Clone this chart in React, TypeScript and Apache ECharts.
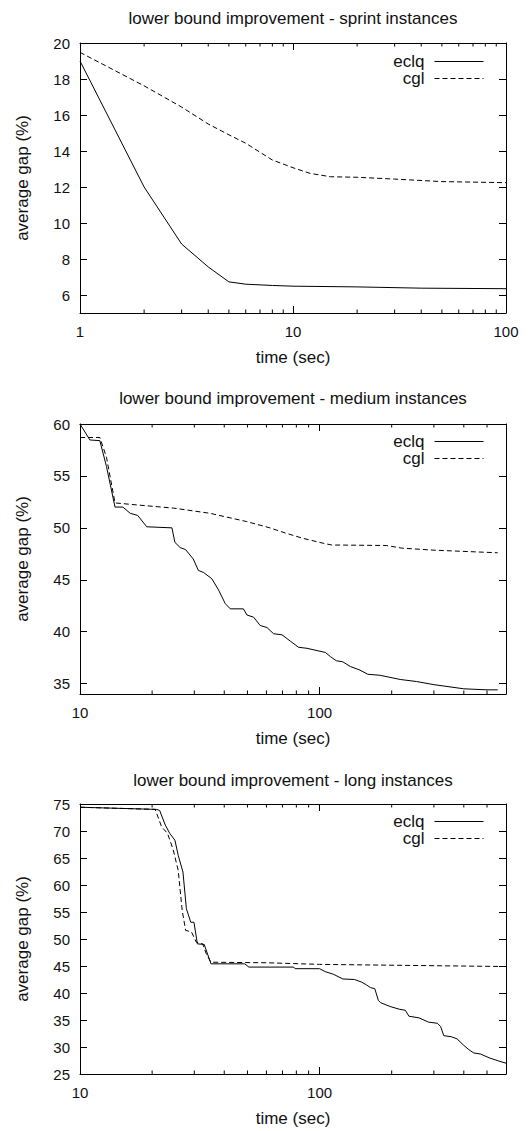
import React, { useEffect, useRef } from 'react';
import * as echarts from 'echarts';

// ---------- data ----------
const sprintEclqTime = [1, 2, 3, 4, 5, 6, 8, 10, 20, 40, 100];
const sprintEclqGap = [19.0, 12.0, 8.83, 7.56, 6.73, 6.6, 6.53, 6.49, 6.45, 6.38, 6.35];
const sprintCglTime = [1, 2, 3, 4, 5, 6, 8, 10, 12, 15, 20, 30, 50, 100];
const sprintCglGap = [19.48, 17.62, 16.44, 15.5, 14.9, 14.43, 13.5, 13.07, 12.76, 12.57, 12.54, 12.44, 12.3, 12.24];

const mediumEclqTime = [10, 11, 12.1, 12.9, 14.0, 15.1, 16.2, 17.4, 19.0, 24.2, 24.9, 26.2, 27.6, 29.7, 31.2, 32.8, 35.5, 37.9, 40.4, 42.4, 48.1, 49.8, 53.0, 56.5, 60.3, 64.3, 69.7, 75.4, 81.7, 88.6, 105.7, 111, 117.5, 125, 134.3, 147.5, 159, 179, 217, 254, 300, 400, 500, 554];
const mediumEclqGap = [60, 58.46, 58.4, 55.9, 52.0, 52.0, 51.4, 51.2, 50.1, 50.0, 48.6, 48.1, 47.9, 47.0, 45.9, 45.7, 45.1, 44.0, 42.7, 42.2, 42.2, 41.6, 41.4, 40.6, 40.4, 39.8, 39.7, 39.1, 38.5, 38.4, 38.0, 37.6, 37.2, 37.1, 36.65, 36.3, 35.9, 35.8, 35.4, 35.2, 34.9, 34.5, 34.4, 34.4];
const mediumCglTime = [10, 12.1, 12.9, 14.0, 17.4, 24.6, 34.9, 49.7, 62, 72, 85, 100, 112, 190, 220, 300, 554];
const mediumCglGap = [58.7, 58.7, 56.8, 52.4, 52.2, 51.9, 51.4, 50.6, 50.0, 49.5, 49.0, 48.6, 48.35, 48.3, 48.05, 47.85, 47.6];

const longEclqTime = [10, 20.9, 21.5, 22.7, 23.7, 24.9, 25.7, 26.9, 27.8, 29.0, 29.9, 30.9, 33.0, 35.2, 48.7, 50.7, 78, 79, 100, 105.7, 114.5, 125, 140, 150, 157, 163, 170, 176, 180, 197, 215, 228, 236, 260, 285, 310, 320, 330, 355, 375, 400, 420, 440, 470, 510, 560, 600];
const longEclqGap = [74.4, 74.0, 73.8, 71.1, 69.55, 68.3, 65.5, 62.4, 55.6, 53.1, 53.1, 49.1, 49.0, 45.4, 45.4, 44.8, 44.8, 44.5, 44.5, 43.95, 43.45, 42.6, 42.5, 42.0, 41.5, 41.0, 40.8, 38.6, 38.2, 37.5, 37.0, 36.8, 35.7, 35.4, 34.6, 34.4, 33.8, 32.1, 31.9, 31.5, 30.3, 29.5, 28.9, 28.7, 28.0, 27.4, 27.0];
const longCglTime = [10, 20.6, 21.9, 23.2, 24.5, 25.7, 26.7, 27.6, 29.2, 30.6, 32.5, 33.7, 35.2, 60, 100, 600];
const longCglGap = [74.4, 74.0, 70.8, 69.55, 66.5, 62.7, 55.3, 51.6, 51.3, 49.4, 49.1, 47.2, 45.7, 45.6, 45.3, 44.9];

const sprintYTicks = [6, 8, 10, 12, 14, 16, 18, 20];
const mediumYTicks = [35, 40, 45, 50, 55, 60];
const longYTicks = [25, 30, 35, 40, 45, 50, 55, 60, 65, 70, 75];
const sprintMinorX = [2, 3, 4, 5, 6, 7, 8, 9, 20, 30, 40, 50, 60, 70, 80, 90];
const longMinorX = [20, 30, 40, 50, 60, 70, 80, 90, 200, 300, 400, 500];

const titles = [
  'lower bound improvement - sprint instances',
  'lower bound improvement - medium instances',
  'lower bound improvement - long instances',
];
const seriesNames = ['eclq', 'cgl'];
const xName = 'time (sec)';
const yName = 'average gap (%)';

const zip = (xs: number[], ys: number[]) => xs.map((x, i) => [x, ys[i]]);

const FONT = '"Liberation Sans", Arial, Helvetica, sans-serif';
const TXT = '#111';

const panels = [
  { title: titles[0], top: 43, titleY: 18, legendTop: 53, xMin: 1, xMax: 100, yMin: 5, yMax: 20, yTicks: sprintYTicks, minor: sprintMinorX, eclq: zip(sprintEclqTime, sprintEclqGap), cgl: zip(sprintCglTime, sprintCglGap) },
  { title: titles[1], top: 424, titleY: 398, legendTop: 433, xMin: 10, xMax: 600, yMin: 34, yMax: 60, yTicks: mediumYTicks, minor: longMinorX, eclq: zip(mediumEclqTime, mediumEclqGap), cgl: zip(mediumCglTime, mediumCglGap) },
  { title: titles[2], top: 804, titleY: 780, legendTop: 813, xMin: 10, xMax: 600, yMin: 25, yMax: 75, yTicks: longYTicks, minor: longMinorX, eclq: zip(longEclqTime, longEclqGap), cgl: zip(longCglTime, longCglGap) },
];

const powFormatter = (v: number) => {
  const l = Math.log10(v);
  return Math.abs(l - Math.round(l)) < 1e-6 ? String(Math.round(v)) : '';
};

function buildOption() {
  const grid: any[] = [];
  const xAxis: any[] = [];
  const yAxis: any[] = [];
  const series: any[] = [];
  const legend: any[] = [];
  const graphic: any[] = [];
  const axisLine = { show: true, onZero: false, lineStyle: { color: '#000', width: 1 } };
  const tick = { show: true, inside: true, length: 7, lineStyle: { color: '#000', width: 1 } };
  const labelStyle = { fontSize: 15, color: TXT, fontFamily: FONT };
  const nameStyle = { fontSize: 17, color: TXT, fontFamily: FONT };

  panels.forEach((p, i) => {
    grid.push({ left: 80, top: p.top, width: 426, height: 270 });
    xAxis.push({
      type: 'log', logBase: 10, gridIndex: i, min: p.xMin, max: p.xMax, position: 'bottom',
      axisLine, axisTick: tick, splitLine: { show: false },
      axisLabel: { ...labelStyle, margin: 11, formatter: powFormatter },
      name: xName, nameLocation: 'middle', nameGap: 36, nameTextStyle: nameStyle,
    });
    xAxis.push({
      type: 'log', logBase: 10, gridIndex: i, min: p.xMin, max: p.xMax, position: 'top',
      axisLine, axisTick: tick, splitLine: { show: false }, axisLabel: { show: false },
    });
    yAxis.push({
      type: 'value', gridIndex: i, min: p.yMin, max: p.yMax, position: 'left',
      axisLine, axisTick: { ...tick, customValues: p.yTicks }, splitLine: { show: false },
      axisLabel: { ...labelStyle, margin: 10, customValues: p.yTicks },
      name: yName, nameLocation: 'middle', nameGap: 49, nameRotate: 90, nameTextStyle: nameStyle,
    });
    yAxis.push({
      type: 'value', gridIndex: i, min: p.yMin, max: p.yMax, position: 'right',
      axisLine, axisTick: { ...tick, customValues: p.yTicks }, splitLine: { show: false },
      axisLabel: { show: false, customValues: p.yTicks },
    });
    series.push({
      type: 'line', name: seriesNames[0], xAxisIndex: 2 * i, yAxisIndex: 2 * i, data: p.eclq,
      symbol: 'none', lineStyle: { color: '#000', width: 1 }, itemStyle: { color: '#000' }, z: 4,
    });
    series.push({
      type: 'line', name: seriesNames[1], xAxisIndex: 2 * i, yAxisIndex: 2 * i, data: p.cgl,
      symbol: 'none', lineStyle: { color: '#000', width: 1, type: [5, 3] }, itemStyle: { color: '#000' }, z: 4,
    });
    series.push({
      type: 'custom', xAxisIndex: 2 * i, yAxisIndex: 2 * i, silent: true, z: 3,
      data: p.minor.map((t) => [t, p.yMin]),
      renderItem: (params: any, api: any) => {
        const x = api.coord([api.value(0), api.value(1)])[0];
        const cs = params.coordSys;
        const st = { stroke: '#000', lineWidth: 1 };
        return {
          type: 'group',
          children: [
            { type: 'line', shape: { x1: x, y1: cs.y + cs.height, x2: x, y2: cs.y + cs.height - 3.5 }, style: st },
            { type: 'line', shape: { x1: x, y1: cs.y, x2: x, y2: cs.y + 3.5 }, style: st },
          ],
        };
      },
    });
    legend.push({
      orient: 'vertical', right: 48, top: p.legendTop, align: 'right', padding: 0,
      itemWidth: 49, itemHeight: 10, itemGap: 0, selectedMode: false,
      data: seriesNames,
      itemStyle: { opacity: 0 },
      lineStyle: { width: 1 },
      textStyle: { fontSize: 17, color: TXT, fontFamily: FONT, lineHeight: 17, padding: [0, 5, 0, 0] },
    });
    graphic.push({
      type: 'text', x: 293, y: p.titleY,
      style: { text: p.title, fill: TXT, font: `17px ${FONT}`, align: 'center', verticalAlign: 'middle' },
    });
  });

  return { animation: false, backgroundColor: '#fff', grid, xAxis, yAxis, series, legend, graphic };
}

export default function App() {
  const ref = useRef<HTMLDivElement>(null);
  useEffect(() => {
    if (!ref.current) return;
    const chart = echarts.init(ref.current, undefined, { renderer: 'svg' });
    chart.setOption(buildOption() as any);
    return () => chart.dispose();
  }, []);
  return <div ref={ref} style={{ position: 'absolute', left: 0, top: 0, width: 532, height: 1131 }} />;
}
